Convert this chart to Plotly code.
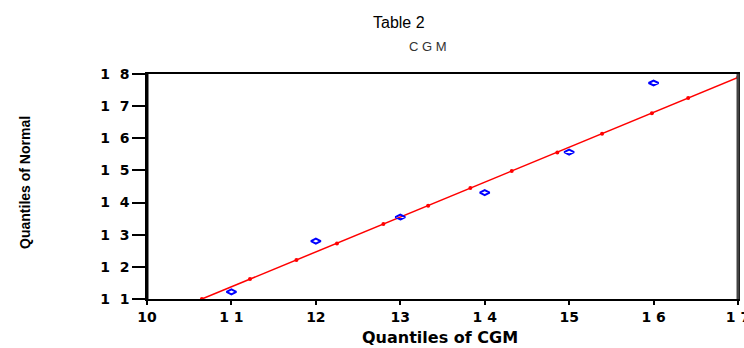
import plotly.graph_objects as go

# Observed quantile points (blue diamonds)
cgm_quantiles = [11, 12, 13, 14, 15, 16]
normal_quantiles = [11.22, 12.80, 13.55, 14.31, 15.57, 17.72]

# Reference line (red) with its markers
line_x = [10.65, 11.22, 11.77, 12.25, 12.80, 13.33, 13.83, 14.32, 14.86, 15.39, 15.98, 16.41, 17.0]
line_y = [11.00, 11.62, 12.21, 12.73, 13.33, 13.90, 14.45, 14.98, 15.56, 16.14, 16.78, 17.25, 17.89]

x_tickvals = [10, 11, 12, 13, 14, 15, 16, 17]
x_ticktext = ["10", "1 1", "12", "13", "1 4", "15", "1 6", "1 7"]
y_tickvals = [11, 12, 13, 14, 15, 16, 17, 18]
y_ticktext = ["1  1", "1  2", "1  3", "1  4", "1  5", "1  6", "1  7", "1  8"]

fig = go.Figure()
fig.add_trace(go.Scatter(
    x=line_x, y=line_y, mode="lines+markers",
    line=dict(color="red", width=1.5),
    marker=dict(color="red", size=4),
    showlegend=False, cliponaxis=False,
))
fig.add_trace(go.Scatter(
    x=cgm_quantiles, y=normal_quantiles, mode="markers",
    marker=dict(symbol="diamond-wide-open", color="blue", size=7, line=dict(width=2, color="blue")),
    showlegend=False, cliponaxis=False,
))

tickfont = dict(family="DejaVu Sans, sans-serif", size=14, color="black", weight="bold")

fig.update_layout(
    width=744, height=348,
    margin=dict(l=147, r=6, t=74, b=49),
    paper_bgcolor="white", plot_bgcolor="white",
    xaxis=dict(
        range=[10, 17], tickvals=x_tickvals, ticktext=x_ticktext, automargin=False,
        ticklabeloverflow="allow",
        ticks="outside", ticklen=4, tickwidth=1.5, tickcolor="black",
        showline=True, linecolor="black", linewidth=1.5, mirror=True,
        showgrid=False, zeroline=False, tickfont=tickfont,
    ),
    yaxis=dict(
        range=[11, 18], tickvals=y_tickvals, ticktext=y_ticktext, automargin=False,
        ticks="outside", ticklen=13, tickwidth=1.5, tickcolor="black",
        showline=True, linecolor="black", linewidth=1.5, mirror=True,
        showgrid=False, zeroline=False, tickfont=tickfont,
    ),
    shapes=[
        dict(type="line", xref="paper", yref="paper", x0=0, x1=0, y0=0, y1=1,
             line=dict(color="black", width=3)),
        dict(type="line", xref="paper", yref="paper", x0=1, x1=1, y0=0, y1=1,
             line=dict(color="#444444", width=3)),
    ],
    annotations=[
        dict(text="Table 2", xref="paper", yref="paper", x=0.4264, y=1.231,
             showarrow=False, xanchor="center", yanchor="middle",
             font=dict(family="Liberation Sans, Arial, sans-serif", size=16, color="black")),
        dict(text="C G M", xref="paper", yref="paper", x=0.4755, y=1.12,
             showarrow=False, xanchor="center", yanchor="middle",
             font=dict(family="Liberation Sans, Arial, sans-serif", size=13, color="#333333")),
        dict(text="Quantiles of CGM", xref="paper", yref="paper", x=0.4958, y=-0.17,
             showarrow=False, xanchor="center", yanchor="middle",
             font=dict(family="DejaVu Sans, sans-serif", size=16, color="black", weight="bold")),
        dict(text="Quantiles of Normal", xref="paper", yref="paper", x=-0.2064, y=0.516,
             showarrow=False, xanchor="center", yanchor="middle", textangle=-90,
             font=dict(family="Liberation Sans, Arial, sans-serif", size=14, color="black", weight="bold")),
    ],
)

# Remove the default page margin so the 744x348 figure fills the window exactly.
fig.write_html(
    "out.html",
    config={"displayModeBar": False},
    post_script="document.body.style.margin='0';document.documentElement.style.overflow='hidden';",
)
